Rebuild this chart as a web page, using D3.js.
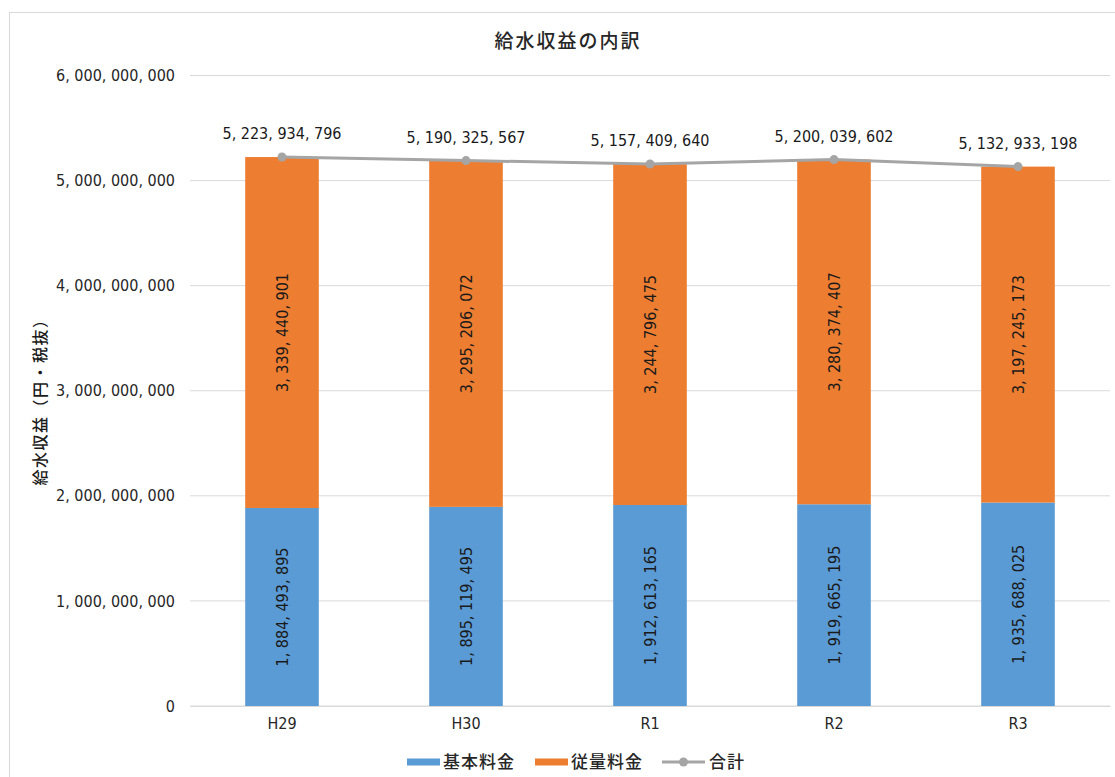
<!DOCTYPE html>
<html>
<head>
<meta charset="utf-8">
<script src="https://cdn.jsdelivr.net/npm/d3@7"></script>
<style>
  body { margin: 0; background: #fff; }
  .num { font-family: "Liberation Sans Narrow", "DejaVu Sans Condensed", "Liberation Sans", sans-serif; }
  .jp { font-family: "Noto Sans CJK JP", sans-serif; }
</style>
</head>
<body>
<div id="chart"></div>
<script>
// data
var years = ["H29", "H30", "R1", "R2", "R3"];
var kihon = [1884493895, 1895119495, 1912613165, 1919665195, 1935688025];
var juryo = [3339440901, 3295206072, 3244796475, 3280374407, 3197245173];
var total = [5223934796, 5190325567, 5157409640, 5200039602, 5132933198];
var yTicks = [0, 1e9, 2e9, 3e9, 4e9, 5e9, 6e9];

var W = 1115, H = 777;
var margin = {top: 75.5, right: 5, bottom: 71, left: 190};
var width = W - margin.left - margin.right,
    height = H - margin.top - margin.bottom;

var fmt = function (v) { return d3.format(",")(v).replace(/,/g, ", "); };

var svg = d3.select("#chart").append("svg")
    .attr("width", W).attr("height", H);

// outer frame
svg.append("rect")
    .attr("x", 9.5).attr("y", 12.5)
    .attr("width", W + 20).attr("height", H + 20)
    .attr("fill", "none").attr("stroke", "#d9d9d9");

var g = svg.append("g")
    .attr("transform", "translate(" + margin.left + "," + margin.top + ")");

var x = d3.scaleBand().domain(years).range([0, width]).paddingInner(0.6).paddingOuter(0.3);
var y = d3.scaleLinear().domain([0, 6e9]).range([height, 0]);

// gridlines
g.append("g").selectAll("line").data(yTicks).join("line")
    .attr("x1", 0).attr("x2", width)
    .attr("y1", d => y(d)).attr("y2", d => y(d))
    .attr("stroke", "#d9d9d9").attr("stroke-width", 1);

// y axis labels
var yAxis = g.append("g").call(d3.axisLeft(y).tickValues(yTicks).tickFormat(fmt).tickSize(0).tickPadding(15));
yAxis.select(".domain").remove();
yAxis.selectAll("text").attr("class", "num").style("font-size", "16px").attr("fill", "#262626");

// x axis labels
var xAxis = g.append("g").attr("transform", "translate(0," + height + ")")
    .call(d3.axisBottom(x).tickSize(0).tickPadding(12));
xAxis.select(".domain").attr("stroke", "#d9d9d9");
xAxis.selectAll("text").attr("class", "num").style("font-size", "16px").attr("fill", "#262626");

// stacked bars
var rows = years.map((yr, i) => ({year: yr, kihon: kihon[i], juryo: juryo[i], total: total[i]}));
var stack = d3.stack().keys(["kihon", "juryo"])(rows);
var colors = {kihon: "#5b9bd5", juryo: "#ed7d31"};

stack.forEach(function (layer) {
    var lg = g.append("g");
    lg.selectAll("rect").data(layer).join("rect")
        .attr("x", d => x(d.data.year))
        .attr("width", x.bandwidth())
        .attr("y", d => y(d[1]))
        .attr("height", d => y(d[0]) - y(d[1]))
        .attr("fill", colors[layer.key]);
    lg.selectAll("text").data(layer).join("text")
        .attr("class", "num")
        .attr("transform", d => "translate(" + (x(d.data.year) + x.bandwidth() / 2) + "," + ((y(d[0]) + y(d[1])) / 2) + ") rotate(-90)")
        .attr("text-anchor", "middle").attr("dy", "0.35em")
        .style("font-size", "16px").attr("fill", "#1a1a1a")
        .text(d => fmt(d.data[layer.key]));
});

// total line
var line = d3.line().x(d => x(d.year) + x.bandwidth() / 2).y(d => y(d.total));
g.append("path").datum(rows)
    .attr("d", line).attr("fill", "none")
    .attr("stroke", "#a5a5a5").attr("stroke-width", 3);
g.append("g").selectAll("circle").data(rows).join("circle")
    .attr("cx", d => x(d.year) + x.bandwidth() / 2)
    .attr("cy", d => y(d.total))
    .attr("r", 4.5).attr("fill", "#a5a5a5");
g.append("g").selectAll("text").data(rows).join("text")
    .attr("class", "num")
    .attr("x", d => x(d.year) + x.bandwidth() / 2)
    .attr("y", d => y(d.total) - 18)
    .attr("text-anchor", "middle")
    .style("font-size", "16px").attr("fill", "#1a1a1a")
    .text(d => fmt(d.total));

// title
svg.append("text").attr("class", "jp")
    .attr("x", 568).attr("y", 48)
    .attr("text-anchor", "middle")
    .style("font-size", "19px").style("font-weight", "500").style("letter-spacing", "2px")
    .attr("fill", "#262626")
    .text("給水収益の内訳");

// y axis title
svg.append("text").attr("class", "jp")
    .attr("transform", "translate(46,398) rotate(-90)")
    .attr("text-anchor", "middle")
    .style("font-size", "16px").style("font-weight", "500").style("letter-spacing", "1.5px")
    .attr("fill", "#1a1a1a")
    .text("給水収益（円・税抜）");

// legend
var legend = svg.append("g").attr("transform", "translate(0,762)");
var items = [
    {label: "基本料金", color: colors.kihon, x: 407, type: "bar"},
    {label: "従量料金", color: colors.juryo, x: 535, type: "bar"},
    {label: "合計", color: "#a5a5a5", x: 662, type: "line"}
];
items.forEach(function (it) {
    if (it.type === "bar") {
        legend.append("rect").attr("x", it.x).attr("y", -3.5).attr("width", 33).attr("height", 7).attr("fill", it.color);
    } else {
        legend.append("line").attr("x1", it.x).attr("x2", it.x + 43).attr("y1", 0).attr("y2", 0)
            .attr("stroke", it.color).attr("stroke-width", 3);
        legend.append("circle").attr("cx", it.x + 21.5).attr("cy", 0).attr("r", 4.5).attr("fill", it.color);
    }
    legend.append("text").attr("class", "jp")
        .attr("x", it.x + (it.type === "bar" ? 36 : 47)).attr("y", 0).attr("dy", "0.35em")
        .style("font-size", "17px").style("font-weight", "500").style("letter-spacing", "1px")
        .attr("fill", "#262626")
        .text(it.label);
});
</script>
</body>
</html>
